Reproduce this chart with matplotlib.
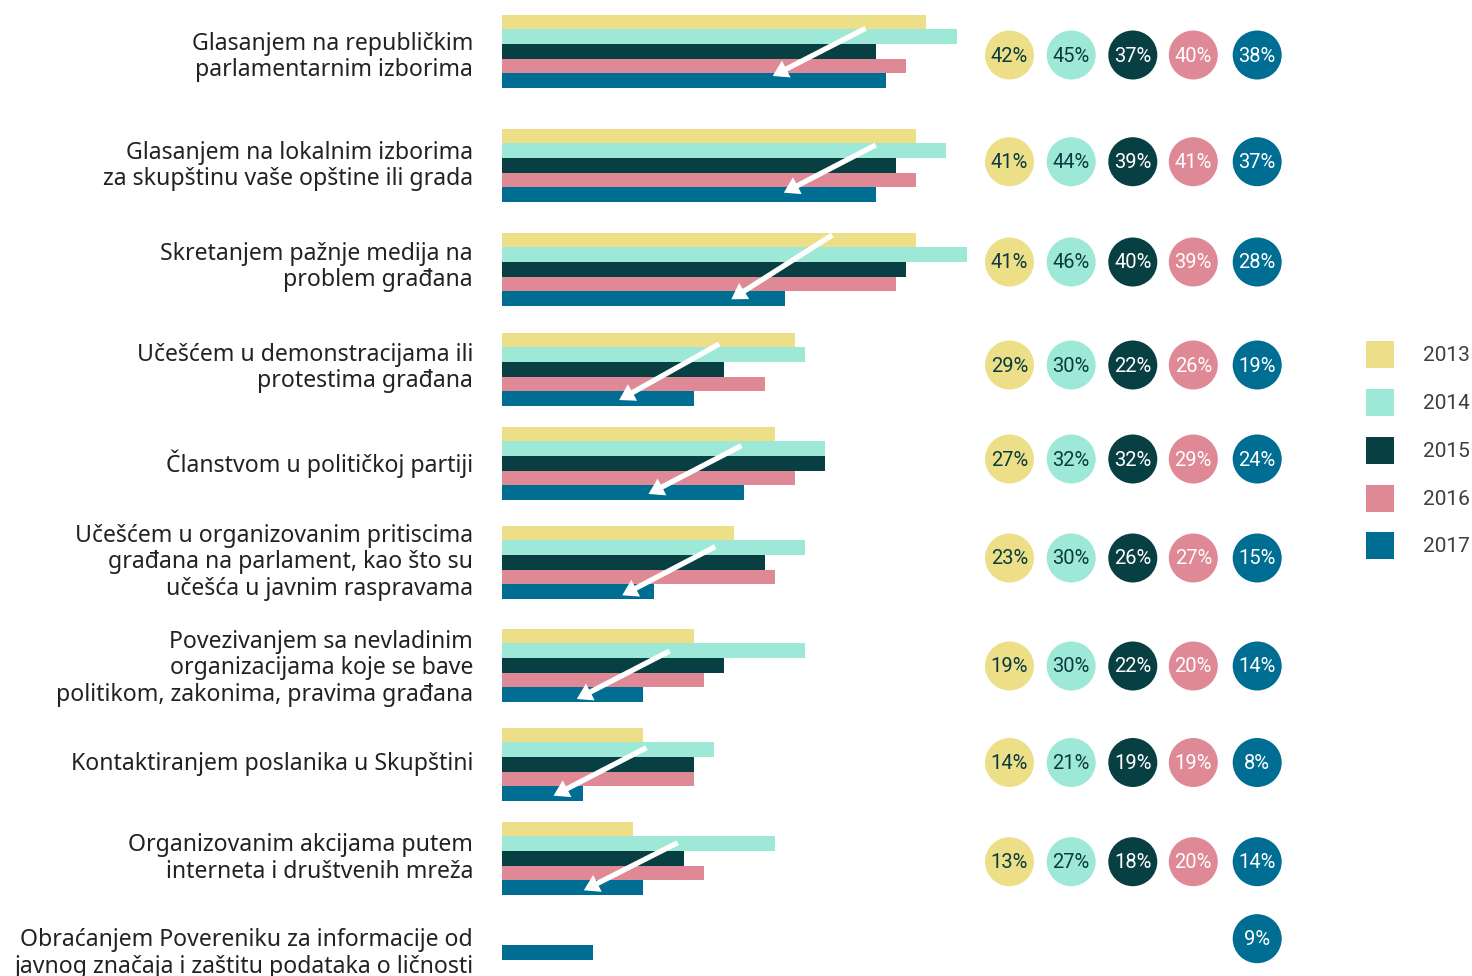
import numpy as np
import matplotlib
matplotlib.use("Agg")
import matplotlib.pyplot as plt
from matplotlib.patches import Circle, Rectangle

# ---------------- data ----------------
categories = [
    "Glasanjem na republičkim\nparlamentarnim izborima",
    "Glasanjem na lokalnim izborima\nza skupštinu vaše opštine ili grada",
    "Skretanjem pažnje medija na\nproblem građana",
    "Učešćem u demonstracijama ili\nprotestima građana",
    "Članstvom u političkoj partiji",
    "Učešćem u organizovanim pritiscima\ngrađana na parlament, kao što su\nučešća u javnim raspravama",
    "Povezivanjem sa nevladinim\norganizacijama koje se bave\npolitikom, zakonima, pravima građana",
    "Kontaktiranjem poslanika u Skupštini",
    "Organizovanim akcijama putem\ninterneta i društvenih mreža",
    "Obraćanjem Povereniku za informacije od\njavnog značaja i zaštitu podataka o ličnosti",
]
years = ["2013", "2014", "2015", "2016", "2017"]
v2013 = [42, 41, 41, 29, 27, 23, 19, 14, 13, None]
v2014 = [45, 44, 46, 30, 32, 30, 30, 21, 27, None]
v2015 = [37, 39, 40, 22, 32, 26, 22, 19, 18, None]
v2016 = [40, 41, 39, 26, 29, 27, 20, 19, 20, None]
v2017 = [38, 37, 28, 19, 24, 15, 14, 8, 14, 9]
series = [v2013, v2014, v2015, v2016, v2017]

# ---------------- styles / layout ----------------
colors = ["#ECDF88", "#9EE8D8", "#073F42", "#DF8896", "#006D93"]
circle_text_colors = ["#0B3B3F", "#0B3B3F", "white", "white", "white"]
W, H = 1472, 976
bar_x0 = 502          # pixel where bars start
px_per_pct = 10.1
bar_h = 14.55
group_y = [51.3, 165.3, 269.3, 369.3, 463.3, 562.3, 665.3, 764.3, 858.3, 923.2]
label_y = [57.3, 166, 267, 368, 463.5, 562.5, 668.5, 764.5, 858.5, 953.5]
circle_y = [55, 161.7, 262, 365, 459, 558, 666, 762.5, 861.7, 938.7]
circle_x = [1009.5, 1071.2, 1132.8, 1193.3, 1257.2]
circle_r = 24.5
# arrows: (tail %, tail dy, tip %, tip dy) relative to group centre
arrows = [
    (36.0, -23.0, 26.8, 24.7),
    (37.0, -20.3, 27.9, 27.4),
    (32.7, -34.3, 22.7, 30.0),
    (21.5, -25.3, 11.6, 30.7),
    (23.7, -17.6, 14.5, 30.7),
    (21.1, -15.6, 11.9, 33.0),
    (16.6, -14.3, 7.4, 33.7),
    (14.3, -16.6, 5.1, 31.4),
    (17.4, -15.6, 8.1, 32.0),
]
legend_y = [354.3, 402.3, 450.3, 498.3, 545.3]

plt.rcParams["font.family"] = ["Roboto", "DejaVu Sans"]

fig = plt.figure(figsize=(W / 100, H / 100), dpi=100)
fig.patch.set_facecolor("white")

# bar axes: x in percent, y in pixel rows
ax = fig.add_axes([bar_x0 / W, 0, (W - bar_x0) / W, 1])
ax.set_xlim(0, (W - bar_x0) / px_per_pct)
ax.set_ylim(H, 0)
ax.axis("off")

for j, vals in enumerate(series):
    ys, ws = [], []
    for i, v in enumerate(vals):
        if v is not None:
            ys.append(group_y[i] + (j - 2) * bar_h)
            ws.append(v)
    ax.barh(ys, ws, height=bar_h, left=0, color=colors[j], linewidth=0, zorder=2)

for i, (tx, tdy, hx, hdy) in enumerate(arrows):
    ax.annotate("", xy=(hx, group_y[i] + hdy), xytext=(tx, group_y[i] + tdy),
                arrowprops=dict(arrowstyle="simple,head_length=0.55,head_width=0.68,tail_width=0.19",
                                color="white", lw=0, mutation_scale=20,
                                shrinkA=0, shrinkB=0),
                zorder=5)

# overlay axes in pixel coordinates
ov = fig.add_axes([0, 0, 1, 1])
ov.set_xlim(0, W)
ov.set_ylim(H, 0)
ov.axis("off")
ov.set_zorder(3)

for i, lab in enumerate(categories):
    ov.text(473, label_y[i], lab, ha="right", va="center", fontsize=16.6,
            color="#222222", linespacing=1.13, family=["Noto Sans", "DejaVu Sans"],
            fontweight="normal")

for j, vals in enumerate(series):
    for i, v in enumerate(vals):
        if v is None:
            continue
        ov.add_patch(Circle((circle_x[j], circle_y[i]), circle_r, color=colors[j], lw=0))
        ov.text(circle_x[j], circle_y[i] + 1, f"{v}%", ha="center", va="center",
                fontsize=14.5, color=circle_text_colors[j], fontweight="normal")

for j, yr in enumerate(years):
    ov.add_patch(Rectangle((1366, legend_y[j] - 13.5), 28, 27, color=colors[j], lw=0))
    ov.text(1423, legend_y[j] + 1, yr, ha="left", va="center", fontsize=15,
            color="#3D3D3D")

fig.savefig("out.png", dpi=100, facecolor="white")
